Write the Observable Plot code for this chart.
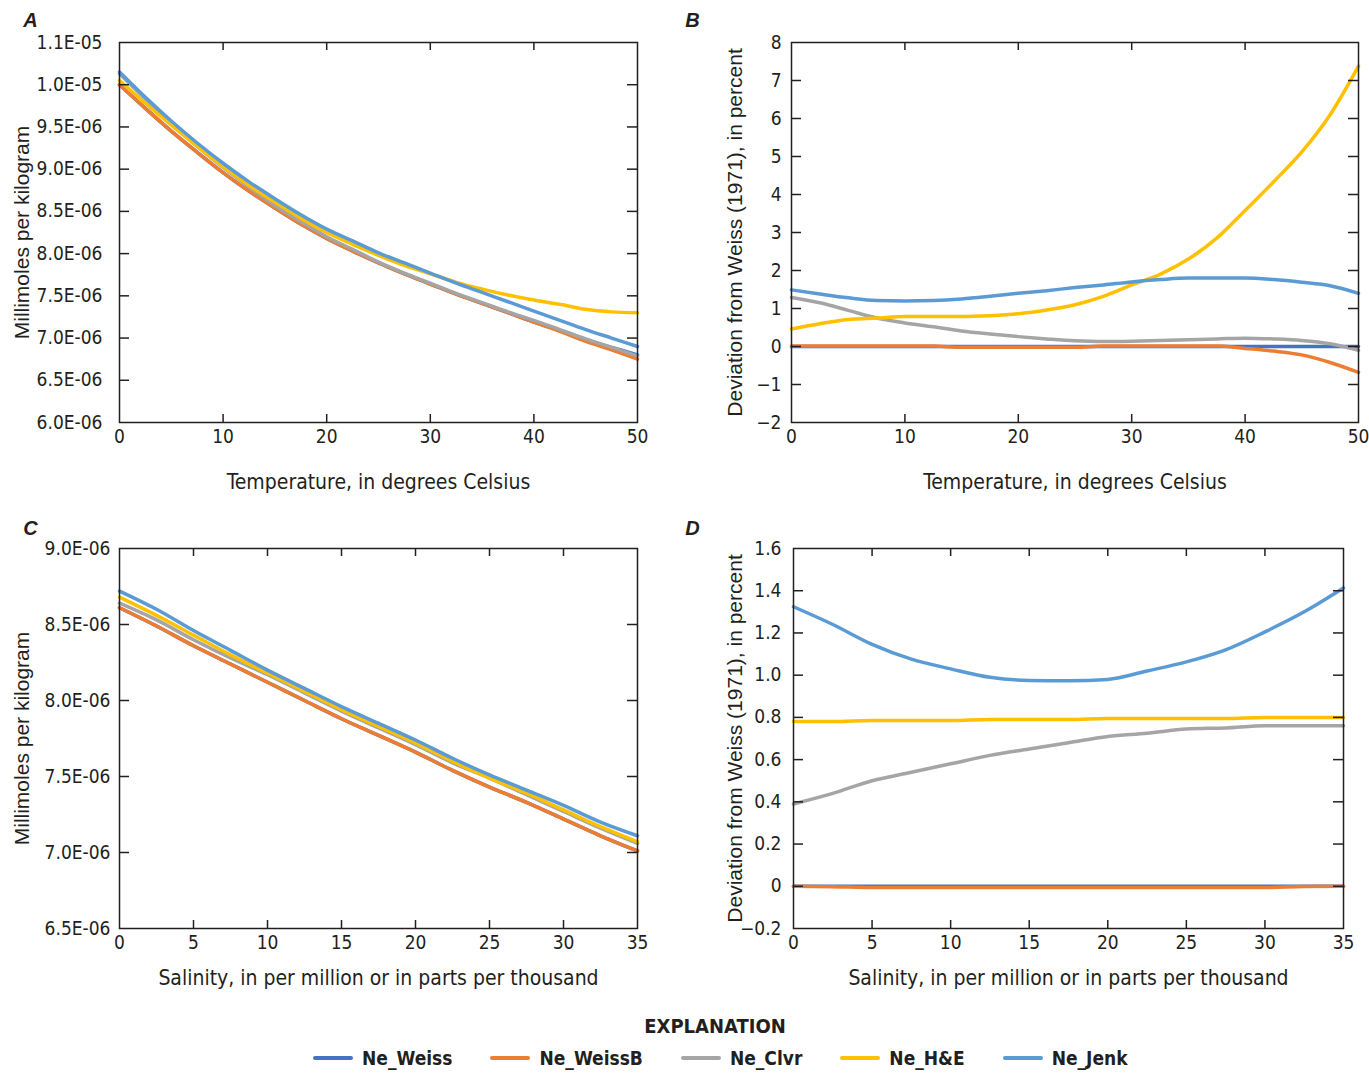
<!DOCTYPE html>
<html><head><meta charset="utf-8">
<script src="https://cdn.jsdelivr.net/npm/d3@7"></script>
<script src="https://cdn.jsdelivr.net/npm/@observablehq/plot@0.6"></script>
<style>
body{margin:0;background:#fff;}
#wrap{position:relative;width:1369px;height:1073px;overflow:hidden;background:#fff;color:#231f20;}
.panel{position:absolute;}
.panel svg{overflow:visible;}
#legTitle{position:absolute;left:565px;width:300px;top:1014px;text-align:center;font-family:"DejaVu Sans Condensed","DejaVu Sans",sans-serif;font-weight:bold;font-size:20px;}
#legItems{position:absolute;left:313px;top:1045px;display:flex;align-items:center;font-family:"DejaVu Sans Condensed","DejaVu Sans",sans-serif;font-weight:bold;font-size:19px;line-height:26px;}
.item{display:flex;align-items:center;margin-right:38px;}
.sw{width:40px;height:4px;border-radius:2px;margin-right:9px;}
</style></head><body><div id="wrap">
<div class="panel" id="pA" style="left:0;top:0"></div>
<div class="panel" id="pB" style="left:680px;top:0"></div>
<div class="panel" id="pC" style="left:0;top:500px"></div>
<div class="panel" id="pD" style="left:680px;top:500px"></div>
<div id="legTitle">EXPLANATION</div>
<div id="legItems"></div>
</div>
<script>
// ---- series ----
const seriesNames = ["Ne_Weiss", "Ne_WeissB", "Ne_Clvr", "Ne_H&E", "Ne_Jenk"];
const seriesColors = ["#4472C4", "#ED7D31", "#A5A5A5", "#FFC000", "#5B9BD5"];
const UNIT = 1e-6; // panels A and C values are given in units of 1E-06 millimoles per kilogram

// ---- Panel A: concentration vs temperature ----
const tempC = [0,2.5,5,7.5,10,12.5,15,17.5,20,22.5,25,27.5,30,32.5,35,37.5,40,42.5,45,47.5,50];
const weissA  = [10.00,9.72,9.45,9.20,8.96,8.74,8.54,8.35,8.18,8.03,7.89,7.76,7.64,7.52,7.41,7.30,7.19,7.09,6.98,6.89,6.80];
const weissBA = [10.00,9.72,9.45,9.20,8.96,8.74,8.54,8.35,8.18,8.03,7.89,7.76,7.64,7.52,7.41,7.30,7.19,7.08,6.96,6.86,6.75];
const clvrA   = [10.13,9.83,9.54,9.27,9.02,8.79,8.57,8.38,8.20,8.05,7.90,7.77,7.65,7.53,7.42,7.31,7.21,7.10,6.99,6.89,6.79];
const heA     = [10.05,9.78,9.52,9.27,9.03,8.81,8.61,8.42,8.25,8.11,7.98,7.86,7.76,7.66,7.58,7.51,7.45,7.40,7.34,7.31,7.30];
const jenkA   = [10.15,9.85,9.57,9.31,9.07,8.85,8.65,8.46,8.29,8.15,8.01,7.89,7.77,7.65,7.54,7.43,7.32,7.21,7.10,7.00,6.90];

// ---- Panel B: deviation (%) vs temperature ----
const weissB_dev  = [0,0,0,0,0,0,0,0,0,0,0,0,0,0,0,0,0,0,0,0,0];
const weissBB_dev = [0.01,0.01,0.01,0.01,0.01,0.01,-0.02,-0.02,-0.02,-0.02,-0.02,0.01,0.01,0.01,0.01,0.01,-0.05,-0.12,-0.22,-0.42,-0.68];
const clvrB_dev   = [1.29,1.15,0.95,0.75,0.62,0.52,0.41,0.33,0.26,0.20,0.15,0.13,0.14,0.16,0.18,0.20,0.22,0.20,0.16,0.07,-0.10];
const heB_dev     = [0.46,0.60,0.71,0.75,0.79,0.79,0.79,0.81,0.86,0.96,1.10,1.32,1.62,1.90,2.30,2.85,3.58,4.33,5.12,6.10,7.38];
const jenkB_dev   = [1.49,1.38,1.28,1.21,1.20,1.21,1.25,1.32,1.40,1.47,1.55,1.62,1.70,1.76,1.80,1.80,1.80,1.76,1.69,1.60,1.40];

// ---- Panel C: concentration vs salinity ----
const salinity = [0,2.5,5,7.5,10,12.5,15,17.5,20,22.5,25,27.5,30,32.5,35];
const weissC  = [8.61,8.49,8.36,8.24,8.12,8.00,7.88,7.77,7.66,7.54,7.43,7.33,7.22,7.11,7.01];
const weissBC = [8.61,8.49,8.36,8.24,8.12,8.00,7.88,7.77,7.66,7.54,7.43,7.33,7.22,7.11,7.01];
const clvrC   = [8.64,8.53,8.40,8.28,8.17,8.05,7.93,7.82,7.71,7.59,7.49,7.38,7.27,7.16,7.06];
const heC     = [8.68,8.56,8.43,8.30,8.18,8.06,7.94,7.83,7.72,7.60,7.49,7.39,7.28,7.17,7.07];
const jenkC   = [8.72,8.60,8.46,8.33,8.20,8.08,7.96,7.85,7.74,7.62,7.51,7.41,7.31,7.20,7.11];

// ---- Panel D: deviation (%) vs salinity ----
const weissD_dev  = [0,0,0,0,0,0,0,0,0,0,0,0,0,0,0];
const weissBD_dev = [0,-0.002,-0.006,-0.006,-0.006,-0.006,-0.006,-0.006,-0.006,-0.006,-0.006,-0.006,-0.006,-0.001,0];
const clvrD_dev   = [0.39,0.44,0.50,0.54,0.58,0.62,0.65,0.68,0.71,0.725,0.745,0.75,0.76,0.76,0.76];
const heD_dev     = [0.78,0.78,0.785,0.785,0.785,0.79,0.79,0.79,0.795,0.795,0.795,0.795,0.80,0.80,0.80];
const jenkD_dev   = [1.324,1.24,1.146,1.076,1.03,0.99,0.975,0.973,0.98,1.02,1.063,1.12,1.205,1.30,1.413];

// ---- ticks and labels ----
const tempTicks = [0,10,20,30,40,50];
const tempTickLabels = ["0","10","20","30","40","50"];
const salTicks = [0,5,10,15,20,25,30,35];
const salTickLabels = ["0","5","10","15","20","25","30","35"];
const aYTicksRaw = [6.0,6.5,7.0,7.5,8.0,8.5,9.0,9.5,10.0,10.5];
const aYTickLabels = ["6.0E-06","6.5E-06","7.0E-06","7.5E-06","8.0E-06","8.5E-06","9.0E-06","9.5E-06","1.0E-05","1.1E-05"];
const bYTicks = [-2,-1,0,1,2,3,4,5,6,7,8];
const bYTickLabels = ["\u22122","\u22121","0","1","2","3","4","5","6","7","8"];
const cYTicksRaw = [6.5,7.0,7.5,8.0,8.5,9.0];
const cYTickLabels = ["6.5E-06","7.0E-06","7.5E-06","8.0E-06","8.5E-06","9.0E-06"];
const dYTicks = [-0.2,0,0.2,0.4,0.6,0.8,1.0,1.2,1.4,1.6];
const dYTickLabels = ["\u22120.2","0","0.2","0.4","0.6","0.8","1.0","1.2","1.4","1.6"];

const tempLabel = "Temperature, in degrees Celsius";
const salLabel = "Salinity, in per million or in parts per thousand";
const concLabel = "Millimoles per kilogram";
const devLabel = "Deviation from Weiss (1971), in percent";

const NARROW = '"DejaVu Sans Condensed","DejaVu Sans",sans-serif';
const WIDE = '"Liberation Sans",Arial,sans-serif';
const INK = "#231f20";

function rows(xs, arrays, scale) {
  const out = [];
  seriesNames.forEach((s, k) => xs.forEach((x, i) => out.push({x, y: arrays[k][i] * scale, s})));
  return out;
}

function panel(o) {
  const [mt, mr, mb, ml] = o.margins;
  const fw = o.width - ml - mr, fh = o.height - mt - mb;
  const xin = o.xTicks.slice(1, -1), yin = o.yTicks.slice(1, -1);
  const tickStyle = {stroke: INK, strokeWidth: 1.5};
  return Plot.plot({
    width: o.width, height: o.height,
    marginTop: mt, marginRight: mr, marginBottom: mb, marginLeft: ml,
    style: {fontFamily: NARROW, fontSize: "19px", color: INK, background: "transparent", overflow: "visible"},
    x: {domain: o.xDomain},
    y: {domain: o.yDomain},
    color: {domain: seriesNames, range: seriesColors},
    marks: [
      Plot.line(o.data, {x: "x", y: "y", z: "s", stroke: "s", strokeWidth: 3.5, curve: "monotone-x"}),
      Plot.frame({stroke: INK, strokeWidth: 1.5}),
      Plot.ruleX(xin, {x: d => d, insetTop: fh - 8, ...tickStyle}),
      Plot.ruleX(xin, {x: d => d, insetBottom: fh - 8, ...tickStyle}),
      Plot.ruleY(yin, {y: d => d, insetRight: fw - 10, ...tickStyle}),
      Plot.ruleY(yin, {y: d => d, insetLeft: fw - 10, ...tickStyle}),
      Plot.axisX({ticks: o.xTicks, tickSize: 0, tickPadding: o.xTickPadding, label: null,
        tickFormat: d => o.xTickLabels[o.xTicks.indexOf(d)], fontSize: 19}),
      Plot.axisY({ticks: o.yTicks, tickSize: 0, tickPadding: o.yTickPadding, label: null,
        tickFormat: d => o.yTickLabels[o.yTicks.indexOf(d)], fontSize: 19}),
      Plot.text([o.xLabel], {frameAnchor: "bottom", dy: o.xLabelDy, text: d => d, fontSize: 21,
        textAnchor: "middle", lineAnchor: "middle", fill: INK}),
      Plot.text([o.yLabel], {frameAnchor: "left", dx: o.yLabelDx, rotate: -90, text: d => d, fontSize: 21,
        textAnchor: "middle", lineAnchor: "middle", fontFamily: WIDE, fill: INK}),
      Plot.text([o.letter], {frameAnchor: "top-left", dx: o.letterDx, dy: o.letterDy, text: d => d, fontSize: 20,
        textAnchor: "middle", lineAnchor: "middle", fontWeight: "bold", fontStyle: "italic", fontFamily: WIDE, fill: INK})
    ]
  });
}

const aYTicks = aYTicksRaw.map(v => v * UNIT);
const cYTicks = cYTicksRaw.map(v => v * UNIT);

document.getElementById("pA").append(panel({
  data: rows(tempC, [weissA, weissBA, clvrA, heA, jenkA], UNIT),
  width: 680, height: 500, margins: [42, 43, 78, 119],
  xDomain: [0, 50], xTicks: tempTicks, xTickLabels: tempTickLabels, xTickPadding: 7,
  yDomain: [6.0 * UNIT, 10.5 * UNIT], yTicks: aYTicks, yTickLabels: aYTickLabels, yTickPadding: 17,
  xLabel: tempLabel, xLabelDy: 60, yLabel: concLabel, yLabelDx: -97,
  letter: "A", letterDx: -89, letterDy: -22
}));
document.getElementById("pB").append(panel({
  data: rows(tempC, [weissB_dev, weissBB_dev, clvrB_dev, heB_dev, jenkB_dev], 1),
  width: 689, height: 500, margins: [42, 11, 78, 111],
  xDomain: [0, 50], xTicks: tempTicks, xTickLabels: tempTickLabels, xTickPadding: 7,
  yDomain: [-2, 8], yTicks: bYTicks, yTickLabels: bYTickLabels, yTickPadding: 10,
  xLabel: tempLabel, xLabelDy: 60, yLabel: devLabel, yLabelDx: -56,
  letter: "B", letterDx: -99, letterDy: -22
}));
document.getElementById("pC").append(panel({
  data: rows(salinity, [weissC, weissBC, clvrC, heC, jenkC], UNIT),
  width: 680, height: 500, margins: [48, 43, 72, 119],
  xDomain: [0, 35], xTicks: salTicks, xTickLabels: salTickLabels, xTickPadding: 7,
  yDomain: [6.5 * UNIT, 9.0 * UNIT], yTicks: cYTicks, yTickLabels: cYTickLabels, yTickPadding: 9,
  xLabel: salLabel, xLabelDy: 50, yLabel: concLabel, yLabelDx: -97,
  letter: "C", letterDx: -89, letterDy: -20
}));
document.getElementById("pD").append(panel({
  data: rows(salinity, [weissD_dev, weissBD_dev, clvrD_dev, heD_dev, jenkD_dev], 1),
  width: 689, height: 500, margins: [48, 26, 72, 113],
  xDomain: [0, 35], xTicks: salTicks, xTickLabels: salTickLabels, xTickPadding: 7,
  yDomain: [-0.2, 1.6], yTicks: dYTicks, yTickLabels: dYTickLabels, yTickPadding: 12,
  xLabel: salLabel, xLabelDy: 50, yLabel: devLabel, yLabelDx: -58,
  letter: "D", letterDx: -101, letterDy: -20
}));

// legend
const leg = document.getElementById("legItems");
seriesNames.forEach((s, i) => {
  const it = document.createElement("div");
  it.className = "item";
  const sw = document.createElement("div");
  sw.className = "sw";
  sw.style.background = seriesColors[i];
  const t = document.createElement("span");
  t.textContent = s;
  it.append(sw, t);
  leg.append(it);
});
</script>
</body></html>
